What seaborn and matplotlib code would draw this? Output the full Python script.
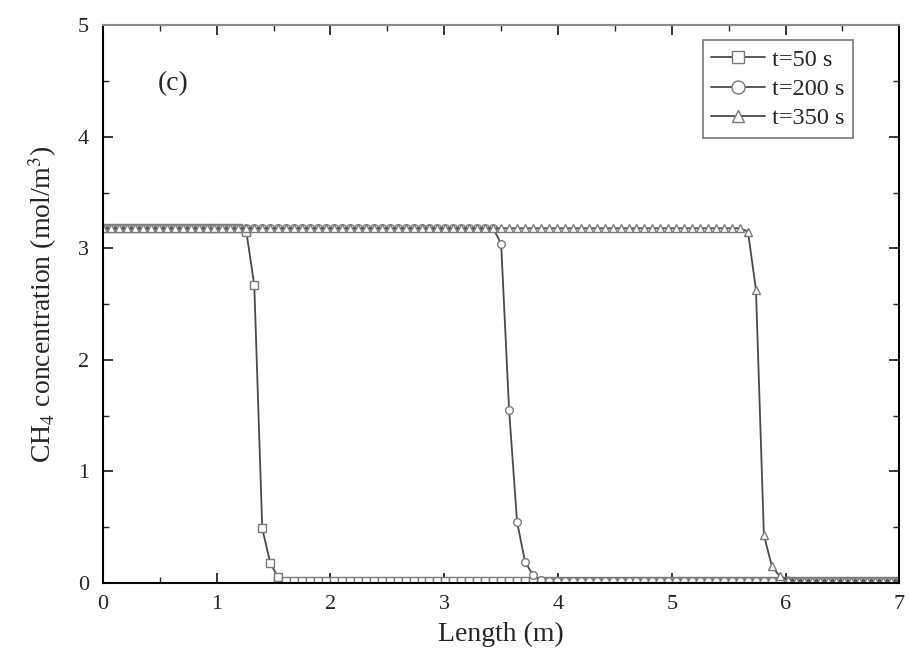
import numpy as np
import pandas as pd
import matplotlib
matplotlib.use("Agg")
import matplotlib.pyplot as plt
import seaborn as sns
from matplotlib.ticker import MultipleLocator

# grid of the model (101 nodes over 7 m)
length = np.round(np.arange(0, 7.001, 0.07), 2)

# CH4 concentration
conc_50 = [3.18]*18 + [3.15, 2.67, 0.49, 0.18, 0.05] + [0.02]*78
conc_200 = [3.18]*50 + [3.04, 1.55, 0.55, 0.19, 0.07, 0.03] + [0.02]*45
conc_350 = [3.18]*81 + [3.15, 2.63, 0.43, 0.15, 0.06, 0.03] + [0.02]*14

labels = ["t=50 s", "t=200 s", "t=350 s"]
markers = ["s", "o", "^"]

sns.set_theme(style="ticks")
plt.rcParams['font.family'] = ['Liberation Serif', 'DejaVu Serif']
plt.rcParams['mathtext.fontset'] = 'stix'

fig = plt.figure(figsize=(9.09, 6.64), dpi=100)
ax = fig.add_axes([0.1133, 0.122, 0.876, 0.84])

for conc, lab, mk in zip([conc_50, conc_200, conc_350], labels, markers):
    df = pd.DataFrame({"x": length, "y": conc})
    sns.lineplot(data=df, x="x", y="y", ax=ax, color="#4a4a4a", lw=1.3,
                 marker=mk, markersize=5.5, markerfacecolor="white",
                 markeredgecolor="#7a7a7a", markeredgewidth=1.0, label=lab)

ax.set_xlim(0, 7)
ax.set_ylim(0, 5)
ax.xaxis.set_major_locator(MultipleLocator(1))
ax.xaxis.set_minor_locator(MultipleLocator(0.5))
ax.yaxis.set_major_locator(MultipleLocator(1))
ax.yaxis.set_minor_locator(MultipleLocator(0.5))
ax.tick_params(which="both", direction="in", top=True, right=True, labelsize=16)
ax.tick_params(axis="x", pad=9)
ax.tick_params(axis="y", pad=10)
ax.tick_params(which="major", length=7, width=1.3)
ax.tick_params(which="minor", length=4, width=1.0)
for s in ax.spines.values():
    s.set_linewidth(1.5)
    s.set_color("black")
ax.spines["top"].set_color("#8a8a8a")

ax.set_xlabel("Length (m)", fontsize=20, labelpad=5)
ax.set_ylabel("CH$_4$ concentration (mol/m$^3$)", fontsize=20, labelpad=14)
ax.text(0.48, 4.42, "(c)", fontsize=20)

leg = ax.legend(loc="upper right", bbox_to_anchor=(0.942, 0.973), borderaxespad=0,
                fontsize=17.5, frameon=True, fancybox=False, edgecolor="#555555",
                markerscale=1.7, handlelength=2.2, borderpad=0.35, labelspacing=0.3,
                handletextpad=0.3)
leg.get_frame().set_linewidth(1.2)

fig.savefig("out.png", dpi=100)
